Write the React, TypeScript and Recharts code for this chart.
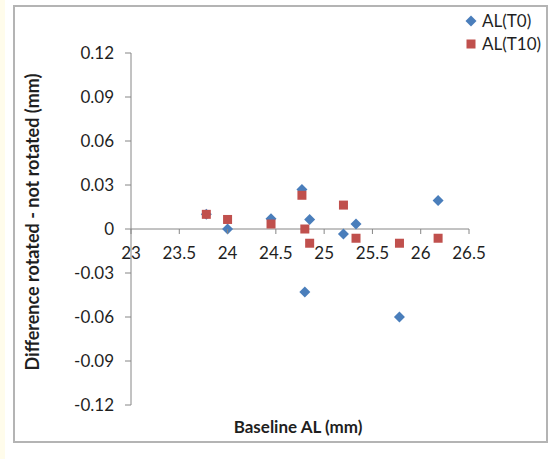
import { ScatterChart, Scatter, XAxis, YAxis, ReferenceLine } from 'recharts';

const baselineAL = [23.78, 24.0, 24.45, 24.77, 24.8, 24.85, 25.2, 25.33, 25.78, 26.18];
const diffT0 = [0.01, 0, 0.007, 0.027, -0.043, 0.0065, -0.0034, 0.0034, -0.06, 0.0194];
const diffT10 = [0.01, 0.0065, 0.0034, 0.023, 0, -0.0097, 0.0163, -0.0063, -0.0097, -0.0063];
const xTicks = [23, 23.5, 24, 24.5, 25, 25.5, 26, 26.5];
const yTicks = [-0.12, -0.09, -0.06, -0.03, 0, 0.03, 0.06, 0.09, 0.12];
const seriesNames = ['AL(T0)', 'AL(T10)'];

const W = 557;
const H = 459;
const PLOT_TOP = 53;
const PLOT_BOTTOM = 405;
const PLOT_LEFT = 131;
const PLOT_RIGHT = 469;
const ZERO_Y = (PLOT_TOP + PLOT_BOTTOM) / 2;
const Y_AXIS_W = 118;
const X_AXIS_H = 40;

const AXIS = '#868686';
const TEXT = '#1f1f1f';
const BLUE = '#4A7EBB';
const RED = '#C0504D';
const FONT = 'Lato, "Open Sans", sans-serif';
const FS = 17;

const t0Data = baselineAL.map((x, i) => ({ x, y: diffT0[i] }));
const t10Data = baselineAL.map((x, i) => ({ x, y: diffT10[i] }));

const fmtY = (v: number) => (v === 0 ? '0' : v.toFixed(2));

function Diamond({ cx, cy }: any) {
  const r = 5.5;
  return <polygon points={`${cx},${cy - r} ${cx + r},${cy} ${cx},${cy + r} ${cx - r},${cy}`} fill={BLUE} />;
}

function Square({ cx, cy }: any) {
  const s = 4.5;
  return <rect x={cx - s} y={cy - s} width={s * 2} height={s * 2} fill={RED} />;
}

// x axis sits on y = 0, so ticks are drawn at the zero line rather than the plot bottom
function XTick({ x, payload }: any) {
  return (
    <g>
      <line x1={x} x2={x} y1={ZERO_Y} y2={ZERO_Y + 5} stroke={AXIS} />
      <text x={x} y={ZERO_Y + 30} textAnchor="middle" fill={TEXT} fontSize={FS} fontFamily={FONT}>
        {payload.value}
      </text>
    </g>
  );
}

function XTitle({ viewBox }: any) {
  const { x, width } = viewBox;
  return (
    <text x={x + width / 2 - 2} y={PLOT_BOTTOM + 28} textAnchor="middle" fill={TEXT} fontSize={FS} fontWeight="bold" fontFamily={FONT}>
      Baseline AL (mm)
    </text>
  );
}

function YTitle() {
  const cx = 39;
  const cy = ZERO_Y - 7;
  return (
    <text
      x={cx}
      y={cy}
      transform={`rotate(-90 ${cx} ${cy})`}
      textAnchor="middle"
      fill={TEXT}
      fontSize={18}
      fontWeight="bold"
      fontFamily={FONT}
    >
      Difference rotated - not rotated (mm)
    </text>
  );
}

function LegendBox() {
  const icons = [
    <polygon points="6,0.5 11.5,6 6,11.5 0.5,6" fill={BLUE} />,
    <rect x={1.5} y={1.5} width={9} height={9} fill={RED} />,
  ];
  return (
    <div style={{ position: 'absolute', left: 465, top: 9, fontFamily: FONT, fontSize: FS, color: TEXT }}>
      {seriesNames.map((name, i) => (
        <div key={name} style={{ display: 'flex', alignItems: 'center', height: 23 }}>
          <svg width={12} height={12} style={{ marginRight: 5 }}>{icons[i]}</svg>
          <span>{name}</span>
        </div>
      ))}
    </div>
  );
}

export default function App() {
  return (
    <div style={{ position: 'absolute', left: 0, top: 0, width: W, height: H, background: '#fff', overflow: 'hidden' }}>
      <div style={{ position: 'absolute', left: 0, top: 0, width: 5, height: H, background: '#FFFCEB' }} />
      <div
        style={{
          position: 'absolute',
          left: 13,
          top: 5,
          width: 531,
          height: 434,
          border: '2px solid #B4B4B4',
        }}
      />
      <div style={{ position: 'absolute', left: 0, top: 0 }}>
        <ScatterChart
          width={W}
          height={H}
          margin={{
            top: PLOT_TOP,
            right: W - PLOT_RIGHT,
            left: PLOT_LEFT - Y_AXIS_W,
            bottom: H - PLOT_BOTTOM - X_AXIS_H,
          }}
        >
          <XAxis
            type="number"
            dataKey="x"
            domain={[23, 26.5]}
            ticks={xTicks}
            height={X_AXIS_H}
            axisLine={false}
            tickLine={false}
            tick={<XTick />}
            interval={0}
            label={<XTitle />}
          />
          <YAxis
            type="number"
            dataKey="y"
            domain={[-0.12, 0.12]}
            ticks={yTicks}
            width={Y_AXIS_W}
            interval={0}
            stroke={AXIS}
            tickSize={6}
            tickMargin={11}
            tickFormatter={fmtY}
            tick={{ fill: TEXT, fontSize: FS, fontFamily: FONT }}
            label={<YTitle />}
          />
          <ReferenceLine y={0} stroke={AXIS} />
          <Scatter name={seriesNames[0]} data={t0Data} shape={<Diamond />} isAnimationActive={false} />
          <Scatter name={seriesNames[1]} data={t10Data} shape={<Square />} isAnimationActive={false} />
        </ScatterChart>
      </div>
      <LegendBox />
    </div>
  );
}
